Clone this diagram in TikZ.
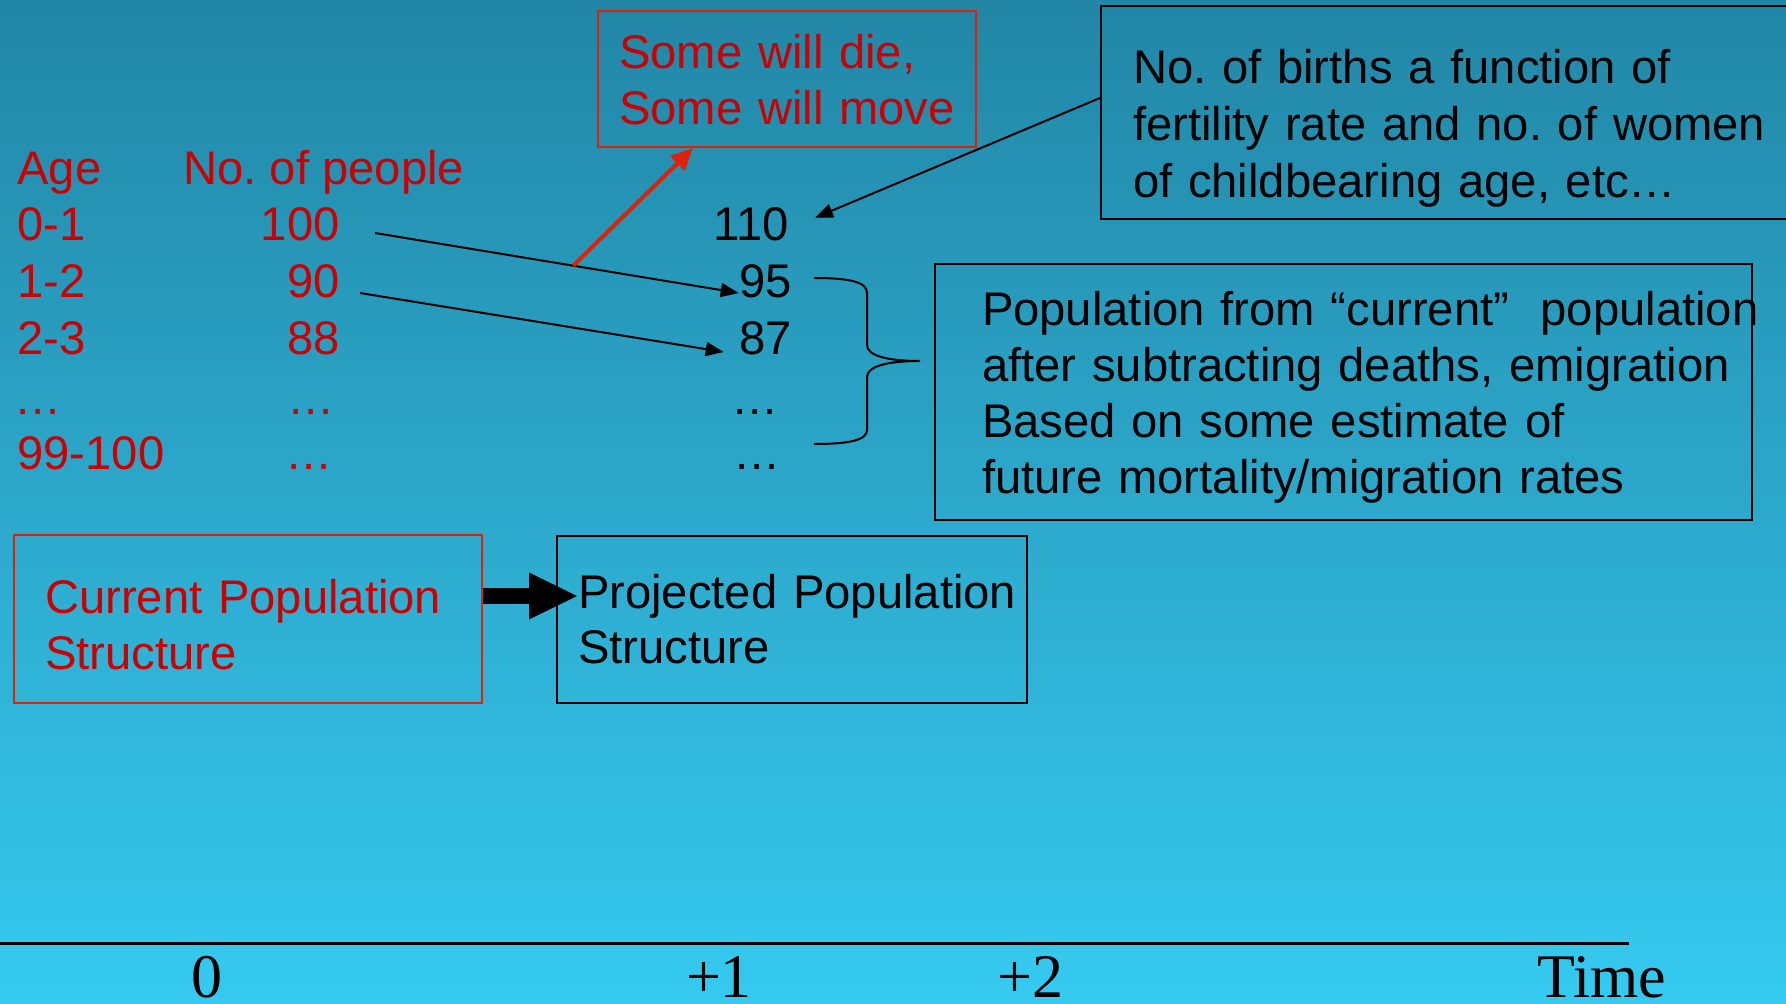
\documentclass[tikz,border=0pt]{standalone}
\usepackage{fontspec}
\setmainfont{Liberation Sans}
\newfontfamily\timesfont{Liberation Serif}
\usetikzlibrary{arrows.meta}
\frenchspacing

\definecolor{slidetop}{RGB}{34,134,166}
\definecolor{slidebot}{RGB}{54,202,240}
\definecolor{txtred}{RGB}{204,0,0}
\definecolor{linered}{RGB}{222,34,8}

\tikzset{
    tab/.style={inner sep=0pt, font=\fontsize{23.6}{28}\selectfont},
    redtab/.style={tab, text=txtred},
    box/.style={draw, line width=1pt, anchor=north west, inner ysep=0pt, align=left, font=\fontsize{23.6}{28}\selectfont},
    redbox/.style={box, draw=linered, text=txtred},
    pointer/.style={line width=1pt, -{Triangle[length=9pt,width=7pt]}},
    axislab/.style={inner sep=0pt, anchor=base, font=\timesfont\fontsize{31}{36}\selectfont}
}

\begin{document}
\begin{tikzpicture}[x=0.5pt, y=-0.5pt]
            \path[use as bounding box, clip] (0,0) rectangle (1786,1004);
            \shade[top color=slidetop, bottom color=slidebot] (0,0) rectangle (1786,1004);

            \node[redtab, anchor=base west] (age) at (17,185) {Age};
            \node[redtab, anchor=base west] (people) at (183,185) {No. of people};
            \node[redtab, anchor=base west] (a0) at (17,241) {0-1};
            \node[redtab, anchor=base west] (a1) at (17,298) {1-2};
            \node[redtab, anchor=base west] (a2) at (17,355) {2-3};
            \node[redtab, anchor=base west] (a3) at (14,415) {…};
            \node[redtab, anchor=base west] (a4) at (17,470) {99-100};
            \node[redtab, anchor=base east] (p0) at (340,241) {100};
            \node[redtab, anchor=base east] (p1) at (340,298) {90};
            \node[redtab, anchor=base east] (p2) at (340,355) {88};
            \node[redtab, anchor=base west] (p3) at (287,415) {…};
            \node[redtab, anchor=base west] (p4) at (285,470) {…};

            \node[tab, anchor=base east] (q0) at (789,241) {110};
            \node[tab, anchor=base east] (q1) at (792,298) {95};
            \node[tab, anchor=base east] (q2) at (792,355) {87};
            \node[tab, anchor=base west] (q3) at (731,415) {…};
            \node[tab, anchor=base west] (q4) at (733,470) {…};

            \node[redbox, text width=168pt, inner xsep=10.5pt, text height=29pt, text depth=39pt] (die) at (597,10) {\mbox{Some will die,}\\\mbox{Some will move}};
            \node[box, text width=333pt, inner xsep=16pt, text height=39pt, text depth=67.5pt, font=\fontsize{23.6}{28.5}\selectfont] (births) at (1100,5) {\mbox{No. of births a function of}\\\mbox{fertility rate and no. of women}\\\mbox{of childbearing age, etc…}};
            \node[box, text width=361.5pt, inner xsep=23.5pt, text height=31pt, text depth=97pt] (pop) at (934,263) {\mbox{Population from “current”\ \ population}\\\mbox{after subtracting deaths, emigration}\\\mbox{Based on some estimate of}\\\mbox{future mortality/migration rates}};
            \node[redbox, text width=203pt, inner xsep=15.5pt, text height=39pt, text depth=45pt] (cur) at (13,534) {\mbox{Current Population}\\\mbox{Structure}};
            \node[box, text width=214pt, inner xsep=10.5pt, text height=36pt, text depth=47.5pt] (proj) at (556,535) {\mbox{Projected Population}\\\mbox{Structure}};

            \node[axislab] (t0) at (207,997) {0};
            \node[axislab] (t1) at (719,997) {+1};
            \node[axislab] (t2) at (1030,997) {+2};
            \node[axislab] (time) at (1602,997) {Time};

            \draw[pointer] ([xshift=17.5pt,yshift=4pt]p0.base east) -- coordinate[pos=0.545] (split) ([yshift=2.5pt]q1.base west);
            \draw[pointer] ([xshift=10pt,yshift=2.5pt]p1.base east) -- ([xshift=-7.5pt,yshift=1.5pt]q2.base west);
            \draw[pointer] ([yshift=7.25pt]births.west) -- ([xshift=13pt,yshift=3.5pt]q0.east);
            \draw[linered, line width=2pt, -{Triangle[length=11pt,width=10pt]}] (split) -- ([xshift=-47pt]die.south);
            \draw[line width=8pt, -{Triangle[length=24pt,width=23.5pt,line width=0pt]}] ([yshift=11.5pt]cur.east) -- ([xshift=10.5pt,yshift=11.75pt]proj.west);

            \draw[line width=1pt] (814,278) .. controls (850,278) and (867,282) .. (867,293) -- (867,345) .. controls (867,355) and (885,361) .. (920,361) .. controls (885,361) and (867,367) .. (867,377) -- (867,430) .. controls (867,440) and (850,444) .. (814,444);
            \draw[line width=1.5pt] (0,943) -- (1629,943);
        \end{tikzpicture}
\end{document}
